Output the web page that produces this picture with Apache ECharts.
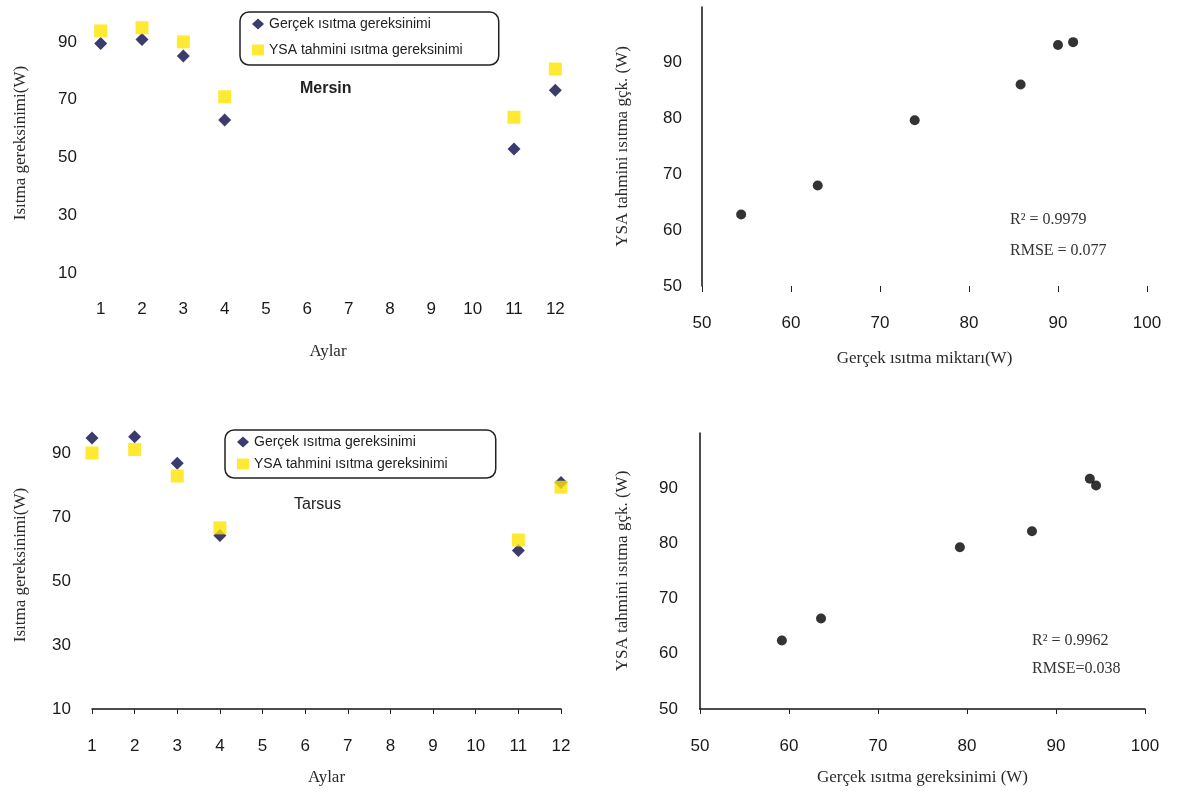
<!DOCTYPE html>
<html>
<head>
<meta charset="utf-8">
<script src="https://cdn.jsdelivr.net/npm/echarts@6/dist/echarts.min.js"></script>
<style>
html,body{margin:0;padding:0;background:#fff;}
#chart{width:1179px;height:795px;}
</style>
</head>
<body>
<div id="chart"></div>
<script>
// ---- data ----
const months = ['1','2','3','4','5','6','7','8','9','10','11','12'];
const mersinReal = [89.4, 90.8, 85.1, 63.0, null, null, null, null, null, null, 52.9, 73.3];
const mersinYSA  = [93.8, 94.9, 90.0, 71.0, null, null, null, null, null, null, 63.9, 80.6];
const tarsusReal = [94.7, 95.1, 86.8, 64.2, null, null, null, null, null, null, 59.5, 80.8];
const tarsusYSA  = [90.0, 91.1, 82.8, 66.6, null, null, null, null, null, null, 62.8, 79.3];
const mersinScatter = [[54.4, 62.8], [63.0, 68.0], [73.9, 79.7], [85.8, 86.1], [90.0, 93.2], [91.7, 93.7]];
const tarsusScatter = [[59.2, 62.4], [63.6, 66.4], [79.2, 79.3], [87.3, 82.2], [93.8, 91.7], [94.5, 90.5]];
const monthAxisTicks = [10, 30, 50, 70, 90];
const scatterTicks = [50, 60, 70, 80, 90, 100];
const nameReal = 'Gerçek ısıtma gereksinimi';
const nameYSA = 'YSA tahmini ısıtma gereksinimi';

const sans = 'Liberation Sans, Arial, sans-serif';
const serif = 'Liberation Serif, Times New Roman, serif';
const navy = '#0a0a48';
const yellow = '#ffe400';

function tickLabel(extra) {
  return Object.assign({ color: '#1a1a1a', fontSize: 17, fontFamily: sans }, extra || {});
}
const nameStyle = { color: '#2a2a2a', fontSize: 17, fontFamily: serif };

const chart = echarts.init(document.getElementById('chart'));
chart.setOption({
  backgroundColor: '#fff',
  animation: false,
  grid: [
    { left: 80, top: 13, width: 496, height: 260 },
    { left: 702, top: 7, width: 445, height: 279 },
    { left: 92, top: 421, width: 469, height: 288 },
    { left: 700, top: 433, width: 445, height: 276 }
  ],
  xAxis: [
    { gridIndex: 0, type: 'category', data: months, boundaryGap: true,
      name: 'Aylar', nameLocation: 'middle', nameGap: 70, nameTextStyle: nameStyle,
      axisLine: { show: false }, axisTick: { show: false },
      axisLabel: tickLabel({ margin: 28 }), splitLine: { show: false } },
    { gridIndex: 1, type: 'value', min: scatterTicks[0], max: scatterTicks[scatterTicks.length - 1], interval: 10,
      name: 'Gerçek ısıtma miktarı(W)', nameLocation: 'middle', nameGap: 64, nameTextStyle: nameStyle,
      axisLine: { show: false }, axisTick: { show: true, length: 6, lineStyle: { color: '#222' } },
      axisLabel: tickLabel({ margin: 29 }), splitLine: { show: false } },
    { gridIndex: 2, type: 'category', data: months, boundaryGap: false,
      name: 'Aylar', nameLocation: 'middle', nameGap: 60, nameTextStyle: nameStyle,
      axisLine: { show: true, lineStyle: { color: '#111', width: 1.5 } },
      axisTick: { show: true, length: 5, lineStyle: { color: '#222' } },
      axisLabel: tickLabel({ margin: 29 }), splitLine: { show: false } },
    { gridIndex: 3, type: 'value', min: scatterTicks[0], max: scatterTicks[scatterTicks.length - 1], interval: 10,
      name: 'Gerçek ısıtma gereksinimi (W)', nameLocation: 'middle', nameGap: 60, nameTextStyle: nameStyle,
      axisLine: { show: true, onZero: false, lineStyle: { color: '#111', width: 1.5 } },
      axisTick: { show: true, length: 5, lineStyle: { color: '#222' } },
      axisLabel: tickLabel({ margin: 29 }), splitLine: { show: false } }
  ],
  yAxis: [
    { gridIndex: 0, type: 'value', min: monthAxisTicks[0], max: 100, interval: 20,
      name: 'Isıtma gereksinimi(W)', nameLocation: 'middle', nameGap: 51, nameTextStyle: nameStyle,
      axisLine: { show: false }, axisTick: { show: false },
      axisLabel: tickLabel({ margin: 3, showMaxLabel: false }), splitLine: { show: false } },
    { gridIndex: 1, type: 'value', min: scatterTicks[0], max: scatterTicks[scatterTicks.length - 1], interval: 10,
      name: 'YSA tahmini ısıtma gçk. (W)', nameLocation: 'middle', nameGap: 71, nameTextStyle: nameStyle,
      axisLine: { show: true, onZero: false, lineStyle: { color: '#111', width: 1.5 } }, axisTick: { show: false },
      axisLabel: tickLabel({ margin: 20, showMaxLabel: false }), splitLine: { show: false } },
    { gridIndex: 2, type: 'value', min: monthAxisTicks[0], max: 100, interval: 20,
      name: 'Isıtma gereksinimi(W)', nameLocation: 'middle', nameGap: 63, nameTextStyle: nameStyle,
      axisLine: { show: false }, axisTick: { show: false },
      axisLabel: tickLabel({ margin: 21, showMaxLabel: false }), splitLine: { show: false } },
    { gridIndex: 3, type: 'value', min: scatterTicks[0], max: scatterTicks[scatterTicks.length - 1], interval: 10,
      name: 'YSA tahmini ısıtma gçk. (W)', nameLocation: 'middle', nameGap: 69, nameTextStyle: nameStyle,
      axisLine: { show: true, onZero: false, lineStyle: { color: '#111', width: 1.5 } }, axisTick: { show: false },
      axisLabel: tickLabel({ margin: 22, showMaxLabel: false }), splitLine: { show: false } }
  ],
  legend: [
    { left: 240, top: 12, orient: 'vertical', data: [nameReal, nameYSA],
      borderColor: '#222', borderWidth: 1.5, borderRadius: 9, padding: [5, 36, 8, 12],
      itemWidth: 12, itemHeight: 11, itemGap: 12,
      textStyle: { fontFamily: sans, fontSize: 14, color: '#222' } },
    { left: 225, top: 430, orient: 'vertical', data: [nameReal, nameYSA],
      borderColor: '#222', borderWidth: 1.5, borderRadius: 9, padding: [5, 48, 7, 12],
      itemWidth: 12, itemHeight: 11, itemGap: 8,
      textStyle: { fontFamily: sans, fontSize: 14, color: '#222' } }
  ],
  graphic: [
    { type: 'text', left: 300, top: 81, style: { text: 'Mersin', font: 'bold 16px ' + sans, fill: '#222' } },
    { type: 'text', left: 294, top: 497, style: { text: 'Tarsus', font: '16px ' + sans, fill: '#222' } },
    { type: 'text', left: 1010, top: 212, style: { text: 'R² = 0.9979', font: '16px ' + serif, fill: '#333' } },
    { type: 'text', left: 1010, top: 243, style: { text: 'RMSE = 0.077', font: '16px ' + serif, fill: '#333' } },
    { type: 'text', left: 1032, top: 633, style: { text: 'R² = 0.9962', font: '16px ' + serif, fill: '#333' } },
    { type: 'text', left: 1032, top: 661, style: { text: 'RMSE=0.038', font: '16px ' + serif, fill: '#333' } }
  ],
  series: [
    { name: nameReal, type: 'scatter', xAxisIndex: 0, yAxisIndex: 0, data: mersinReal,
      symbol: 'diamond', symbolSize: 13, itemStyle: { color: navy } },
    { name: nameYSA, type: 'scatter', xAxisIndex: 0, yAxisIndex: 0, data: mersinYSA,
      symbol: 'rect', symbolSize: 13, itemStyle: { color: yellow } },
    { name: nameReal, type: 'scatter', xAxisIndex: 2, yAxisIndex: 2, data: tarsusReal,
      symbol: 'diamond', symbolSize: 13, itemStyle: { color: navy } },
    { name: nameYSA, type: 'scatter', xAxisIndex: 2, yAxisIndex: 2, data: tarsusYSA,
      symbol: 'rect', symbolSize: 13, itemStyle: { color: yellow } },
    { name: 'Mersin YSA', type: 'scatter', xAxisIndex: 1, yAxisIndex: 1, data: mersinScatter,
      symbol: 'circle', symbolSize: 10, itemStyle: { color: '#000' } },
    { name: 'Tarsus YSA', type: 'scatter', xAxisIndex: 3, yAxisIndex: 3, data: tarsusScatter,
      symbol: 'circle', symbolSize: 10, itemStyle: { color: '#000' } }
  ]
});
</script>
</body>
</html>
